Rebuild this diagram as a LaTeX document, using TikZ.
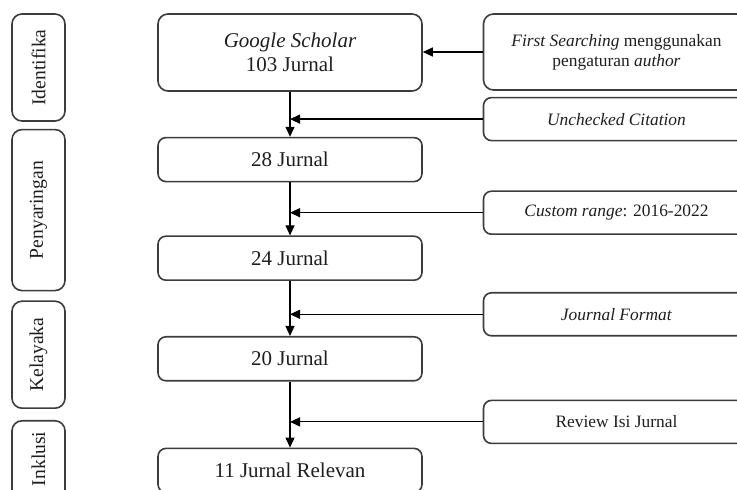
\documentclass[tikz,border=0pt]{standalone}
\usepackage{fontspec}
\setmainfont{Liberation Serif}
\usepackage{graphicx}
\usetikzlibrary{arrows.meta, positioning}
\definecolor{tinta}{HTML}{1E1E1E}
\definecolor{garis}{HTML}{3C3C3C}
\tikzset{
  tahap/.style={rectangle, rounded corners=5pt, minimum width=26.5pt, inner sep=0pt,
                draw=garis, line width=0.8pt, text=tinta, font=\fontsize{9.8}{11}\selectfont},
  jurnal/.style={rectangle, rounded corners=4pt, minimum width=132pt, minimum height=22pt,
                 draw=garis, line width=0.8pt, text=tinta, font=\fontsize{10.5}{12}\selectfont,
                 align=center},
  saring/.style={rectangle, rounded corners=4pt, minimum width=133pt, minimum height=21.5pt,
                 draw=garis, line width=0.8pt, text=tinta, font=\fontsize{8.7}{10}\selectfont,
                 align=center},
  arrow/.style={line width=0.6pt, -{Triangle[length=5pt,width=4.5pt]}, color=black}
}

\begin{document}
\begin{tikzpicture}[x=0.5pt, y=-0.5pt]
  \useasboundingbox (0,0) rectangle (737,490);
  \clip (0,0) rectangle (737,490);
  % tahapan (kolom kiri)
  \node (t1) [tahap, minimum height=53.5pt] at (38.5,67.5) {\rotatebox{90}{Identifika}};
  \node (t2) [tahap, minimum height=80.5pt, below=3.5pt of t1] {\rotatebox{90}{Penyaringan}};
  \node (t3) [tahap, minimum height=53.5pt, below=4.5pt of t2] {\rotatebox{90}{Kelayaka}};
  \node (t4) [tahap, minimum height=46pt, text depth=8pt, below=5.5pt of t3]
        {\rotatebox{90}{Inklusi}};
  % jumlah jurnal (kolom tengah)
  \node (j1) [jurnal, minimum height=38.5pt, rounded corners=5pt] at (290,52.5)
        {\textit{Google Scholar}\\ 103 Jurnal};
  \node (j2) [jurnal, below=22.5pt of j1] {28 Jurnal};
  \node (j3) [jurnal, below=26.5pt of j2] {24 Jurnal};
  \node (j4) [jurnal, below=27.5pt of j3] {20 Jurnal};
  \node (j5) [jurnal, below=33pt of j4] {11 Jurnal Relevan};
  % kriteria penyaringan (kolom kanan)
  \node (f1) [saring, minimum height=38pt, rounded corners=5pt] at (616.5,52)
        {\textit{First Searching} menggunakan\\ pengaturan \textit{author}};
  \node (f2) [saring, below=3pt of f1] {\textit{Unchecked Citation}};
  \node (f3) [saring, below=24.5pt of f2] {\textit{Custom range}: 2016-2022};
  \node (f4) [saring, below=28.5pt of f3] {\textit{Journal Format}};
  \node (f5) [saring, below=31.5pt of f4] {Review Isi Jurnal};
  % alur
  \draw [arrow] (j1) -- (j2); \draw [arrow] (j2) -- (j3);
  \draw [arrow] (j3) -- (j4); \draw [arrow] (j4) -- (j5);
  \coordinate (k1) at (j1.east |- f1.west);
  \coordinate (k2) at (j1.south |- f2.west);
  \coordinate (k3) at (j1.south |- f3.west);
  \coordinate (k4) at (j1.south |- f4.west);
  \coordinate (k5) at (j1.south |- f5.west);
  \draw [arrow] (f1.west) -- (k1); \draw [arrow] (f2.west) -- (k2);
  \draw [arrow] (f3.west) -- (k3); \draw [arrow] (f4.west) -- (k4);
  \draw [arrow] (f5.west) -- (k5);
\end{tikzpicture}
\end{document}
